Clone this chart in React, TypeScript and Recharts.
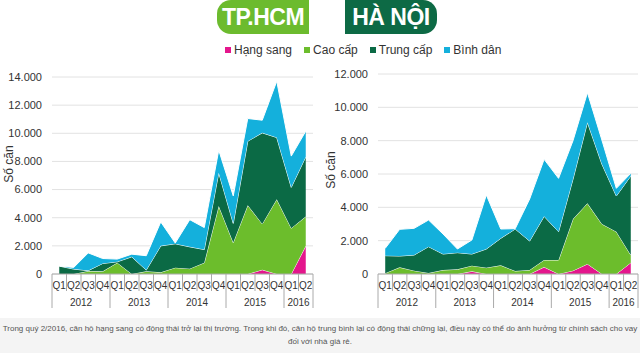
import React from 'react';
import { AreaChart, Area, XAxis, YAxis, CartesianGrid } from 'recharts';

const quarters = ['Q1', 'Q2', 'Q3', 'Q4', 'Q1', 'Q2', 'Q3', 'Q4', 'Q1', 'Q2', 'Q3', 'Q4', 'Q1', 'Q2', 'Q3', 'Q4', 'Q1', 'Q2'];
const years = ['2012', '2012', '2012', '2012', '2013', '2013', '2013', '2013', '2014', '2014', '2014', '2014', '2015', '2015', '2015', '2015', '2016', '2016'];

// TP.HCM (so can)
const hcmHangSang = [0, 0, 0, 0, 0, 0, 0, 0, 0, 0, 0, 0, 0, 0, 300, 0, 0, 2000];
const hcmCaoCap = [0, 0, 210, 190, 800, 0, 190, 120, 450, 380, 800, 4840, 2240, 4890, 3260, 5310, 3260, 2080];
const hcmTrungCap = [560, 350, 30, 560, 70, 1220, 90, 1880, 1700, 1550, 940, 2360, 1360, 4550, 6470, 4390, 2900, 4250];
const hcmBinhDan = [0, 120, 1260, 350, 190, 190, 1020, 1700, 50, 1930, 1560, 1600, 1950, 1610, 900, 4000, 2220, 1820];

// Ha Noi
const hnHangSang = [0, 0, 0, 0, 0, 0, 160, 0, 0, 0, 0, 420, 0, 200, 600, 0, 0, 680];
const hnCaoCap = [50, 400, 200, 60, 240, 280, 340, 380, 520, 180, 240, 420, 840, 3100, 3640, 3000, 2540, 460];
const hnTrungCap = [1050, 680, 940, 1580, 960, 1000, 700, 1120, 1620, 2520, 1740, 2620, 1700, 2400, 4860, 3600, 2140, 4740];
const hnBinhDan = [440, 1600, 1600, 1600, 1200, 220, 840, 3240, 560, 20, 2520, 3420, 3200, 2300, 1780, 1440, 460, 160];

const hcmTicks = [0, 2000, 4000, 6000, 8000, 10000, 12000, 14000];
const hnTicks = [0, 2000, 4000, 6000, 8000, 10000, 12000];

const COLORS = {
  hangSang: '#e4168c',
  caoCap: '#6cbd2c',
  trungCap: '#0b6a45',
  binhDan: '#14b0dc',
};

const legendItems = [
  { name: 'Hạng sang', color: COLORS.hangSang },
  { name: 'Cao cấp', color: COLORS.caoCap },
  { name: 'Trung cấp', color: COLORS.trungCap },
  { name: 'Bình dân', color: COLORS.binhDan },
];

const captionLine1 =
  'Trong quý 2/2016, căn hộ hạng sang có động thái trở lại thị trường. Trong khi đó, căn hộ trung bình lại có động thái chững lại, điều này có thể do ảnh hưởng từ chính sách cho vay';
const captionLine2 = 'đối với nhà giá rẻ.';

const FONT = "'Liberation Sans', Arial, sans-serif";

const buildRows = (hs: number[], cc: number[], tc: number[], bd: number[]) =>
  quarters.map((q, i) => ({ q, idx: i, hangSang: hs[i], caoCap: cc[i], trungCap: tc[i], binhDan: bd[i] }));

const fmt = (v: number) => v.toString().replace(/\B(?=(\d{3})+(?!\d))/g, '.');

const makeTick = (half: number) => (props: any) => {
  const { x, y, payload } = props;
  const i = payload.index;
  const yr = years[i];
  const yearStart = i === 0 || years[i - 1] !== yr;
  const last = i === quarters.length - 1;
  let yearLabel = null;
  if (yearStart) {
    const n = years.filter((v) => v === yr).length;
    const cx = x - half + n * half;
    yearLabel = (
      <text x={cx} y={y + 32} textAnchor="middle" fontSize={10} fill="#333" fontFamily={FONT}>
        {yr}
      </text>
    );
  }
  return (
    <g>
      <line x1={x - half} x2={x - half} y1={y} y2={yearStart ? y + 34 : y + 17} stroke="#aaa" />
      {last && <line x1={x + half} x2={x + half} y1={y} y2={y + 34} stroke="#aaa" />}
      <text x={x} y={y + 15} textAnchor="middle" fontSize={10} fill="#333" fontFamily={FONT}>
        {quarters[i]}
      </text>
      {yearLabel}
    </g>
  );
};

type PanelProps = {
  rows: any[];
  ticks: number[];
  yWidth: number;
  top: number;
  right: number;
  width: number;
};

const Panel = ({ rows, ticks, yWidth, top, right, width }: PanelProps) => {
  const plotW = width - yWidth - right;
  const half = plotW / quarters.length / 2;
  return (
    <AreaChart width={width} height={320} data={rows} margin={{ top, right, left: 0, bottom: 0 }}>
      <CartesianGrid vertical={false} stroke="#e2e2e2" />
      <YAxis
        width={yWidth}
        domain={[0, ticks[ticks.length - 1]]}
        ticks={ticks}
        tickFormatter={fmt}
        axisLine={false}
        tickLine={false}
        tickMargin={4}
        tick={{ fontSize: 11, fill: '#333', fontFamily: FONT }}
      />
      <XAxis
        dataKey="idx"
        interval={0}
        height={46}
        padding={{ left: half, right: half }}
        axisLine={{ stroke: '#aaa' }}
        tickLine={false}
        tickSize={0}
        tickMargin={0}
        tick={makeTick(half)}
      />
      <Area type="linear" dataKey="hangSang" stackId="s" stroke="#ffffff" strokeWidth={1} fill={COLORS.hangSang} fillOpacity={1} isAnimationActive={false} dot={false} activeDot={false} />
      <Area type="linear" dataKey="caoCap" stackId="s" stroke="#ffffff" strokeWidth={1} fill={COLORS.caoCap} fillOpacity={1} isAnimationActive={false} dot={false} activeDot={false} />
      <Area type="linear" dataKey="trungCap" stackId="s" stroke="#ffffff" strokeWidth={1} fill={COLORS.trungCap} fillOpacity={1} isAnimationActive={false} dot={false} activeDot={false} />
      <Area type="linear" dataKey="binhDan" stackId="s" stroke="#ffffff" strokeWidth={1} fill={COLORS.binhDan} fillOpacity={1} isAnimationActive={false} dot={false} activeDot={false} />
    </AreaChart>
  );
};

const badge = (text: string, left: number, bg: string, radius: string) => (
  <div
    style={{
      position: 'absolute',
      left,
      top: 0,
      width: 92,
      height: 34,
      background: bg,
      borderRadius: radius,
      color: '#fff',
      fontFamily: FONT,
      fontWeight: 'bold',
      fontSize: 23,
      lineHeight: '34px',
      textAlign: 'center',
      letterSpacing: -0.5,
    }}
  >
    {text}
  </div>
);

const yLabel = (left: number, top: number) => (
  <div
    style={{
      position: 'absolute',
      left,
      top,
      transform: 'translate(-50%, -50%) rotate(-90deg)',
      fontFamily: FONT,
      fontSize: 12,
      color: '#333',
      whiteSpace: 'nowrap',
    }}
  >
    Số căn
  </div>
);

export default function App() {
  const hcmRows = buildRows(hcmHangSang, hcmCaoCap, hcmTrungCap, hcmBinhDan);
  const hnRows = buildRows(hnHangSang, hnCaoCap, hnTrungCap, hnBinhDan);
  return (
    <div style={{ position: 'absolute', left: 0, top: 0, width: 640, height: 353, background: '#fff', overflow: 'hidden' }}>
      {badge('TP.HCM', 217, '#6cbb2e', '14px 0 0 14px')}
      {badge('HÀ NỘI', 345, '#0d6a45', '0 14px 14px 0')}
      <div
        style={{
          position: 'absolute',
          left: 225,
          top: 42,
          display: 'flex',
          gap: 12,
          fontFamily: FONT,
          fontSize: 12,
          color: '#333',
          lineHeight: '16px',
        }}
      >
        {legendItems.map((it) => (
          <div key={it.name} style={{ display: 'flex', alignItems: 'center' }}>
            <span style={{ width: 6, height: 6, background: it.color, marginRight: 3, display: 'inline-block' }} />
            {it.name}
          </div>
        ))}
      </div>
      <div style={{ position: 'absolute', left: 0, top: 0 }}>
        <Panel rows={hcmRows} ticks={hcmTicks} yWidth={52} top={77} right={7} width={320} />
      </div>
      <div style={{ position: 'absolute', left: 320, top: 0 }}>
        <Panel rows={hnRows} ticks={hnTicks} yWidth={58} top={74} right={2} width={320} />
      </div>
      {yLabel(9, 164)}
      {yLabel(331, 170)}
      <div
        style={{
          position: 'absolute',
          left: 0,
          top: 318,
          width: 640,
          height: 35,
          background: '#f4f4f4',
          fontFamily: FONT,
          fontSize: 8,
          color: '#555',
          textAlign: 'center',
          lineHeight: '13px',
          paddingTop: 4,
          boxSizing: 'border-box',
        }}
      >
        <div style={{ whiteSpace: 'nowrap' }}>{captionLine1}</div>
        <div>{captionLine2}</div>
      </div>
    </div>
  );
}
